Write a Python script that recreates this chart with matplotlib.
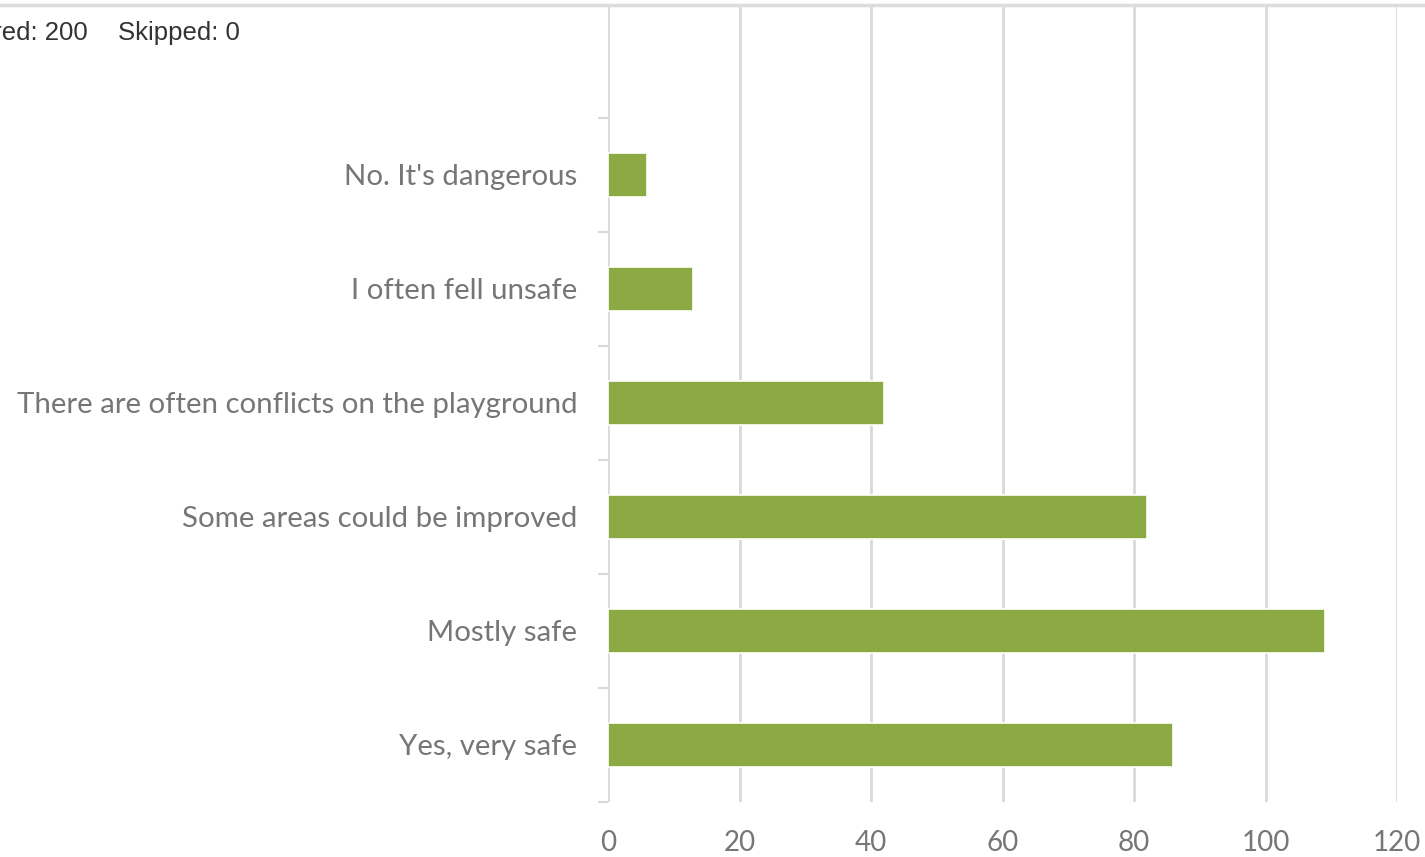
import matplotlib
matplotlib.use("Agg")
import matplotlib.pyplot as plt
from matplotlib.lines import Line2D

categories = ["Yes, very safe", "Mostly safe", "Some areas could be improved",
              "There are often conflicts on the playground", "I often fell unsafe",
              "No. It's dangerous"]
values = [86, 109, 82, 42, 13, 6]
xticks = [0, 20, 40, 60, 80, 100, 120]

W, H = 1425, 857
fig = plt.figure(figsize=(W / 100, H / 100), dpi=100)
ax = fig.add_axes([608 / W, 1 - 802 / H, (1397 - 608) / W, (802 - 5) / H])

grid_c = "#d9d9d9"
label_c = "#767676"
font = "Lato"

ypos = list(range(len(categories)))
ax.barh(ypos, values, height=0.39, color="#8BAA44", edgecolor="white", linewidth=1.2, zorder=3)

ax.set_xlim(0, 120)
ax.set_ylim(-0.5, 6.49)
ax.set_xticks(xticks)
ax.set_xticklabels([str(t) for t in xticks], fontsize=20, color=label_c, family=font)
ax.tick_params(axis="x", length=0, pad=20)
ax.xaxis.grid(True, color=grid_c, linewidth=2, zorder=0)

ax.set_yticks(ypos)
ax.set_yticklabels(categories, fontsize=21.2, color=label_c, family=font)
ax.tick_params(axis="y", which="major", length=0, pad=22)
ax.set_yticks([i - 0.5 for i in range(len(categories) + 1)], minor=True)
ax.tick_params(axis="y", which="minor", length=7.5, width=1.5, color=grid_c)

for s in ["top", "right", "bottom", "left"]:
    ax.spines[s].set_visible(False)

fig.add_artist(Line2D([0, 1], [1 - 5 / H, 1 - 5 / H], color="#dcdcdc", linewidth=2.5, transform=fig.transFigure))

fig.text(88 / W, 1 - 33 / H, "Answered: 200", ha="right", va="center", fontsize=18.5,
         color="#333333", family="Liberation Sans")
fig.text(118 / W, 1 - 33 / H, "Skipped: 0", ha="left", va="center", fontsize=18.5,
         color="#333333", family="Liberation Sans")

fig.savefig("out.png", dpi=100)
